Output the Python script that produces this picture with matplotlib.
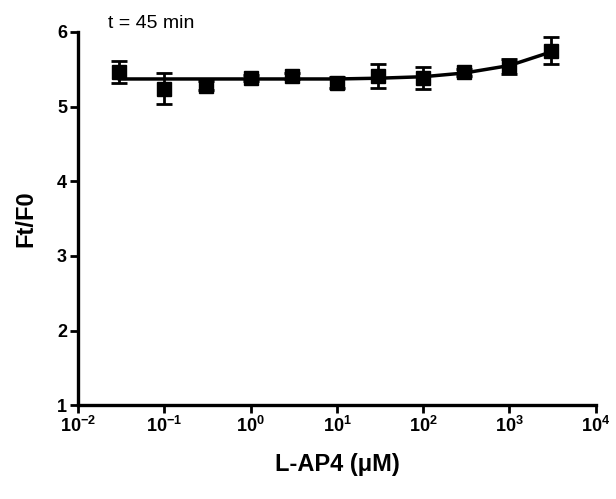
import numpy as np
import matplotlib
matplotlib.use('Agg')
from matplotlib import pyplot as plt
from matplotlib.ticker import LogFormatterSciNotation, NullLocator

# concentration of L-AP4 (uM) and mean Ft/F0 with error
conc = [0.03, 0.1, 0.3, 1, 3, 10, 30, 100, 300, 1000, 3000]
ratio = [5.46, 5.24, 5.28, 5.38, 5.41, 5.32, 5.41, 5.38, 5.46, 5.54, 5.75]
err = [0.15, 0.21, 0.06, 0.04, 0.04, 0.07, 0.16, 0.15, 0.05, 0.1, 0.18]

# fitted curve
fitX = [0.03, 0.1, 0.3, 1, 3, 10, 30, 100, 300, 1000, 3000]
fitY = [5.37, 5.37, 5.37, 5.37, 5.37, 5.37, 5.38, 5.40, 5.45, 5.55, 5.73]

xTicks = [1e-2, 1e-1, 1e0, 1e1, 1e2, 1e3, 1e4]
yTicks = [1, 2, 3, 4, 5, 6]

plt.rcParams['font.family'] = ['Liberation Sans', 'DejaVu Sans']
plt.rcParams['mathtext.default'] = 'regular'

fig = plt.figure(figsize=(6.16, 4.99), dpi=100)
ax = fig.add_axes([0.127, 0.188, 0.840, 0.748])

ax.plot(fitX, fitY, '-k', lw=2.5)
ax.errorbar(conc, ratio, yerr=err, fmt='s', color='k', ms=10,
            elinewidth=2, capsize=6, capthick=2)

ax.set_xscale('log')
ax.set_xticks(xTicks)
ax.xaxis.set_major_formatter(LogFormatterSciNotation())
ax.xaxis.set_minor_locator(NullLocator())
ax.set_yticks(yTicks)
ax.set_xlim(1e-2, 1e4)
ax.set_ylim(1, 6)

for s in ['top', 'right']:
    ax.spines[s].set_visible(False)
for s in ['left', 'bottom']:
    ax.spines[s].set_linewidth(2.4)
ax.tick_params(width=2, length=6, labelsize=13, pad=2)
for lab in ax.get_xticklabels() + ax.get_yticklabels():
    lab.set_fontweight('bold')

ax.set_xlabel('L-AP4 (\u03bcM)', fontsize=17, fontweight='bold', labelpad=12)
ax.set_ylabel('Ft/F0', fontsize=17, fontweight='bold', labelpad=14)
ax.text(0.057, 1.045, 't = 45 min', transform=ax.transAxes, fontsize=14,
        va='top')

fig.savefig('out.png', dpi=100)
